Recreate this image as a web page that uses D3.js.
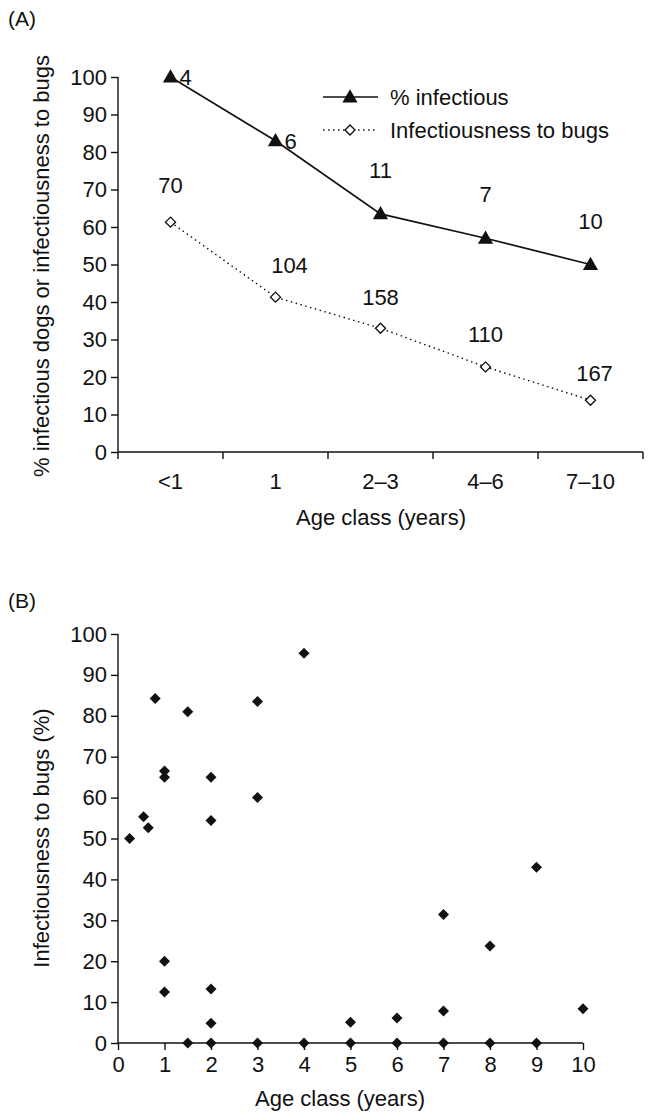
<!DOCTYPE html>
<html><head><meta charset="utf-8">
<script src="https://cdn.jsdelivr.net/npm/d3@7"></script>
<style>
body{margin:0;background:#fff;}
text{font-family:"Liberation Sans",Arial,sans-serif;fill:#111;}
</style></head>
<body>
<svg id="c" width="666" height="1113"></svg>
<script>
const categories = ["<1","1","2\u20133","4\u20136","7\u201310"];
const pctInfectious = [100, 83, 63.5, 57, 50];
const pctInfectiousN = ["4","6","11","7","10"];
const infBugs = [61.3, 41.3, 33, 22.7, 13.8];
const infBugsN = ["70","104","158","110","167"];
const yTicksA = [0,10,20,30,40,50,60,70,80,90,100];

const scatterAge = [0.25,0.55,0.65,0.8,1,1,1,1,1.5,1.5,2,2,2,2,2,3,3,3,4,4,5,5,6,6,7,7,7,8,8,9,9,10];
const scatterInf = [50,55.3,52.6,84.2,66.5,65,20,12.5,81,0,65,54.4,13.2,4.8,0,83.5,60,0,95.3,0,5.1,0,6.1,0,31.4,7.8,0,23.7,0,43,0,8.4];
const xTicksB = [0,1,2,3,4,5,6,7,8,9,10];

const svg = d3.select("#c");
const FS = 22;
const INK = "#111";

// ---------- Panel A ----------
const gA = svg.append("g");
const xA = d3.scaleBand().domain(categories).range([118,643]);
const yA = d3.scaleLinear().domain([0,100]).range([452,77]);

svg.append("text").attr("x",8).attr("y",26).attr("font-size",FS-1).text("(A)");

const gy = gA.append("g").attr("transform","translate(118,0)")
  .call(d3.axisLeft(yA).tickValues(yTicksA).tickSize(7).tickPadding(4));
gy.selectAll("text").attr("font-size",FS).attr("font-family",null).attr("fill",INK);
gy.selectAll("line,path").attr("stroke",INK).attr("stroke-width",1.4);
gy.select("path").attr("d","M0,"+yA(100)+"V"+yA(0));

const gx = gA.append("g").attr("transform","translate(0,452)");
gx.append("line").attr("x1",118).attr("x2",643).attr("y1",0).attr("y2",0).attr("stroke",INK).attr("stroke-width",1.4);
const bounds = categories.map(c=>xA(c)).concat([xA(categories[4])+xA.bandwidth()]);
gx.selectAll("line.t").data(bounds).enter().append("line").attr("class","t")
  .attr("x1",d=>d).attr("x2",d=>d).attr("y1",0).attr("y2",7).attr("stroke",INK).attr("stroke-width",1.4);
gx.selectAll("text").data(categories).enter().append("text")
  .attr("x",d=>xA(d)+xA.bandwidth()/2).attr("y",37).attr("text-anchor","middle").attr("font-size",FS).text(d=>d);

svg.append("text").attr("x",381).attr("y",525).attr("text-anchor","middle").attr("font-size",FS).text("Age class (years)");
svg.append("text").attr("transform","translate(49,266) rotate(-90)").attr("text-anchor","middle").attr("font-size",FS)
  .text("% infectious dogs or infectiousness to bugs");

const cx = i => xA(categories[i]) + xA.bandwidth()/2;
const line = d3.line().x((d,i)=>cx(i)).y(d=>yA(d));

gA.append("path").datum(infBugs).attr("d",line).attr("fill","none").attr("stroke",INK).attr("stroke-width",1.4).attr("stroke-dasharray","1.5,3.5");
gA.append("path").datum(pctInfectious).attr("d",line).attr("fill","none").attr("stroke",INK).attr("stroke-width",1.7);

const tri = d3.symbol().type(d3.symbolTriangle).size(100);
const dia = (s)=>`M0,${-s}L${s},0L0,${s}L${-s},0Z`;

gA.selectAll("path.tri").data(pctInfectious).enter().append("path").attr("class","tri")
  .attr("d",tri).attr("transform",(d,i)=>`translate(${cx(i)},${yA(d)+1})`).attr("fill",INK);
gA.selectAll("path.dia").data(infBugs).enter().append("path").attr("class","dia")
  .attr("d",dia(5)).attr("transform",(d,i)=>`translate(${cx(i)},${yA(d)})`).attr("fill","#fff").attr("stroke",INK).attr("stroke-width",1.4);

// sample-size labels
const triLblDx = [9, 9, 0, 0, 0], triLblDy = [8, 8, -36, -36, -36];
gA.selectAll("text.ln").data(pctInfectious).enter().append("text").attr("class","ln")
  .attr("x",(d,i)=> cx(i)+triLblDx[i])
  .attr("y",(d,i)=> yA(d)+triLblDy[i])
  .attr("text-anchor",(d,i)=> i<2 ? "start":"middle")
  .attr("font-size",FS).text((d,i)=>pctInfectiousN[i]);
const diaLblDx = [0, 14, 0, 0, 4], diaLblDy = [-29, -24, -23, -25, -19];
gA.selectAll("text.lb").data(infBugs).enter().append("text").attr("class","lb")
  .attr("x",(d,i)=>cx(i)+diaLblDx[i]).attr("y",(d,i)=>yA(d)+diaLblDy[i])
  .attr("text-anchor","middle").attr("font-size",FS).text((d,i)=>infBugsN[i]);

// legend
const lg = gA.append("g");
lg.append("line").attr("x1",323).attr("x2",378).attr("y1",97).attr("y2",97).attr("stroke",INK).attr("stroke-width",1.7);
lg.append("path").attr("d",tri).attr("transform","translate(350,98)").attr("fill",INK);
lg.append("text").attr("x",390).attr("y",105).attr("font-size",FS).text("% infectious");
lg.append("line").attr("x1",323).attr("x2",378).attr("y1",130).attr("y2",130).attr("stroke",INK).attr("stroke-width",1.4).attr("stroke-dasharray","1.5,3.5");
lg.append("path").attr("d",dia(5)).attr("transform","translate(350,130)").attr("fill","#fff").attr("stroke",INK).attr("stroke-width",1.4);
lg.append("text").attr("x",390).attr("y",138).attr("font-size",FS).text("Infectiousness to bugs");

// ---------- Panel B ----------
const gB = svg.append("g");
const xB = d3.scaleLinear().domain([0,10]).range([118,583]);
const yB = d3.scaleLinear().domain([0,100]).range([1043,634]);

svg.append("text").attr("x",8).attr("y",608).attr("font-size",FS-1).text("(B)");

const gyB = gB.append("g").attr("transform","translate(118,0)")
  .call(d3.axisLeft(yB).tickValues(yTicksA).tickSize(7).tickPadding(4));
gyB.selectAll("text").attr("font-size",FS).attr("font-family",null).attr("fill",INK);
gyB.selectAll("line,path").attr("stroke",INK).attr("stroke-width",1.4);
gyB.select("path").attr("d","M0,"+yB(100)+"V"+yB(0));

const gxB = gB.append("g").attr("transform","translate(0,1043)")
  .call(d3.axisBottom(xB).tickValues(xTicksB).tickSize(7).tickPadding(6));
gxB.selectAll("text").attr("font-size",FS).attr("font-family",null).attr("fill",INK);
gxB.selectAll("line,path").attr("stroke",INK).attr("stroke-width",1.4);
gxB.select("path").attr("d","M"+xB(0)+",0H"+xB(10));

svg.append("text").attr("x",340).attr("y",1106).attr("text-anchor","middle").attr("font-size",FS).text("Age class (years)");
svg.append("text").attr("transform","translate(49,838) rotate(-90)").attr("text-anchor","middle").attr("font-size",FS)
  .text("Infectiousness to bugs (%)");

gB.selectAll("path.pt").data(scatterAge).enter().append("path").attr("class","pt")
  .attr("d",dia(5.5)).attr("transform",(d,i)=>`translate(${xB(d)},${yB(scatterInf[i])})`).attr("fill",INK);
</script>
</body></html>
